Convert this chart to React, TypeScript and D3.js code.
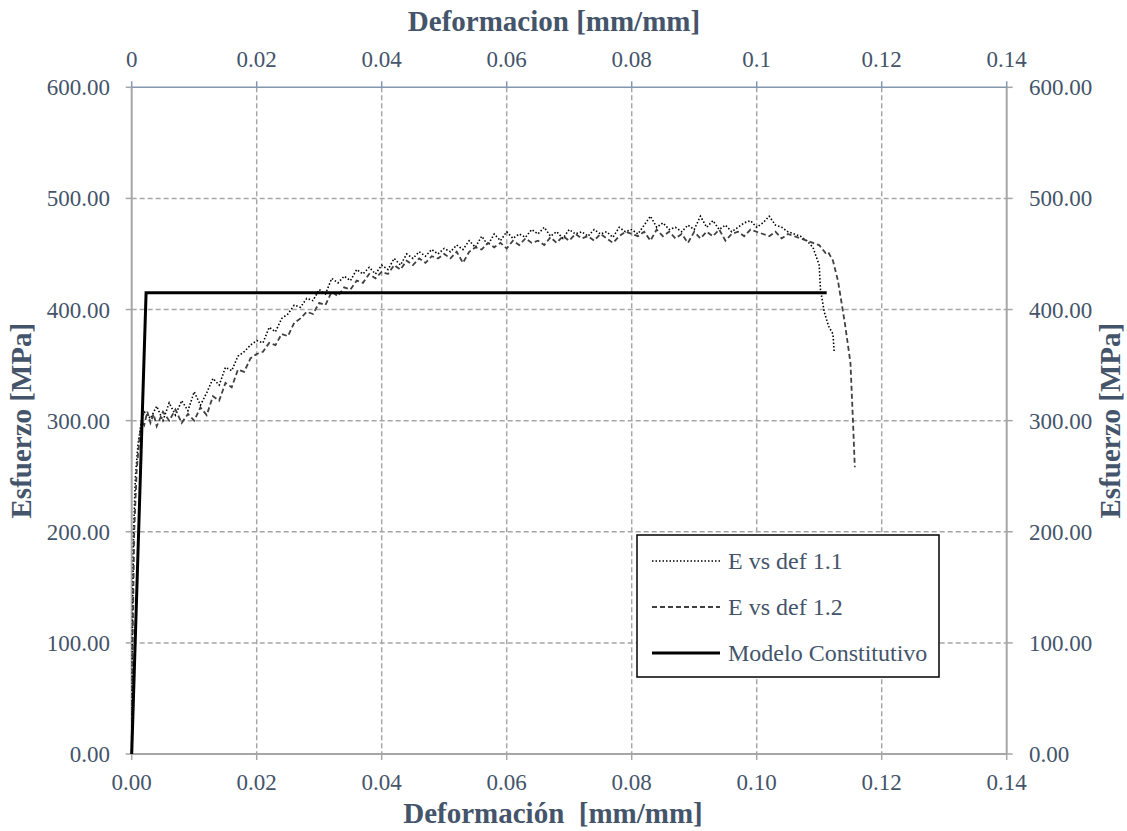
import React from "react";
import * as d3 from "d3";

const strain11 = [0, 0.0001, 0.0003, 0.0006, 0.001, 0.0015, 0.002, 0.003, 0.004, 0.005, 0.006, 0.007, 0.008, 0.009, 0.010, 0.011, 0.012, 0.013, 0.014, 0.015, 0.016, 0.017, 0.018, 0.019, 0.020, 0.021, 0.022, 0.023, 0.024, 0.025, 0.026, 0.027, 0.028, 0.029, 0.030, 0.031, 0.032, 0.033, 0.034, 0.035, 0.036, 0.037, 0.038, 0.039, 0.040, 0.041, 0.042, 0.043, 0.044, 0.045, 0.046, 0.047, 0.048, 0.049, 0.050, 0.051, 0.052, 0.053, 0.054, 0.055, 0.056, 0.057, 0.058, 0.059, 0.060, 0.061, 0.062, 0.063, 0.064, 0.065, 0.066, 0.067, 0.068, 0.069, 0.070, 0.071, 0.072, 0.073, 0.074, 0.075, 0.076, 0.077, 0.078, 0.079, 0.080, 0.081, 0.082, 0.083, 0.084, 0.085, 0.086, 0.087, 0.088, 0.089, 0.090, 0.091, 0.092, 0.093, 0.094, 0.095, 0.096, 0.097, 0.098, 0.099, 0.100, 0.101, 0.102, 0.103, 0.104, 0.105, 0.106, 0.107, 0.108, 0.109, 0.110, 0.1102, 0.1108, 0.1115, 0.1122, 0.1124];
const stress11 = [0, 100, 200, 250, 278, 298, 308, 302, 313, 300, 316, 305, 318, 309, 326, 314, 325, 338, 332, 348, 345, 358, 362, 368, 372, 370, 384, 380, 392, 396, 404, 402, 410, 408, 418, 414, 428, 424, 430, 426, 436, 432, 438, 432, 440, 436, 446, 440, 450, 446, 452, 448, 454, 450, 455, 452, 458, 454, 462, 456, 466, 458, 468, 462, 470, 464, 468, 465, 472, 468, 474, 466, 470, 464, 472, 468, 470, 466, 472, 468, 470, 465, 474, 470, 472, 468, 476, 484, 474, 478, 472, 474, 470, 476, 472, 484, 474, 480, 472, 476, 470, 474, 478, 480, 474, 478, 484, 476, 474, 470, 468, 466, 462, 456, 440, 418, 398, 385, 378, 362];

const strain12 = [0, 0.00015, 0.0004, 0.0008, 0.0012, 0.0016, 0.002, 0.0025, 0.003, 0.0035, 0.004, 0.005, 0.006, 0.007, 0.008, 0.009, 0.010, 0.011, 0.012, 0.013, 0.014, 0.015, 0.016, 0.017, 0.018, 0.019, 0.020, 0.021, 0.022, 0.023, 0.024, 0.025, 0.026, 0.027, 0.028, 0.029, 0.030, 0.031, 0.032, 0.033, 0.034, 0.035, 0.036, 0.037, 0.038, 0.039, 0.040, 0.041, 0.042, 0.043, 0.044, 0.045, 0.046, 0.047, 0.048, 0.049, 0.050, 0.051, 0.052, 0.053, 0.054, 0.055, 0.056, 0.057, 0.058, 0.059, 0.060, 0.061, 0.062, 0.063, 0.064, 0.065, 0.066, 0.067, 0.068, 0.069, 0.070, 0.071, 0.072, 0.073, 0.074, 0.075, 0.076, 0.077, 0.078, 0.079, 0.080, 0.081, 0.082, 0.083, 0.084, 0.085, 0.086, 0.087, 0.088, 0.089, 0.090, 0.091, 0.092, 0.093, 0.094, 0.095, 0.096, 0.097, 0.098, 0.099, 0.100, 0.101, 0.102, 0.103, 0.104, 0.105, 0.106, 0.107, 0.108, 0.109, 0.110, 0.111, 0.1114, 0.1122, 0.113, 0.1141, 0.115, 0.1154, 0.1157];
const stress12 = [0, 100, 200, 255, 282, 300, 296, 308, 298, 306, 295, 308, 300, 310, 298, 306, 300, 312, 305, 322, 318, 334, 330, 346, 344, 356, 360, 362, 370, 368, 378, 376, 388, 392, 398, 396, 406, 404, 416, 412, 420, 418, 426, 424, 432, 428, 434, 432, 440, 436, 444, 440, 446, 442, 448, 446, 450, 446, 452, 442, 452, 456, 454, 460, 456, 460, 455, 462, 458, 464, 460, 462, 458, 465, 460, 466, 462, 468, 464, 466, 462, 468, 464, 460, 466, 470, 468, 466, 470, 462, 472, 466, 470, 464, 468, 460, 470, 464, 470, 466, 472, 462, 468, 470, 466, 472, 470, 468, 466, 470, 464, 468, 466, 464, 462, 460, 458, 451, 452, 444, 426, 388, 352, 300, 258];

const strainModel = [0, 0.0023, 0.1112];
const stressModel = [0, 415, 415];

const xTicks = [0, 0.02, 0.04, 0.06, 0.08, 0.10, 0.12, 0.14];
const yTicks = [0, 100, 200, 300, 400, 500, 600];
const topTickLabels = ["0", "0.02", "0.04", "0.06", "0.08", "0.1", "0.12", "0.14"];

const seriesNames = ["E vs def 1.1", "E vs def 1.2", "Modelo Constitutivo"];

const TXT = "#44546A";
const GRID = "#A6A6A6";
const FONT = "'Liberation Serif', 'Times New Roman', serif";

export default function App() {
  const W = 1127, H = 831;
  const x = d3.scaleLinear().domain([0, 0.14]).range([131.7, 1006.7]);
  const y = d3.scaleLinear().domain([0, 600]).range([754, 87.3]);
  const line = d3.line<[number, number]>().x(d => x(d[0])).y(d => y(d[1]));
  const zip = (a: number[], b: number[]) => a.map((v, i) => [v, b[i]] as [number, number]);
  const p11 = line(zip(strain11, stress11)) || "";
  const p12 = line(zip(strain12, stress12)) || "";
  const pm = line(zip(strainModel, stressModel)) || "";

  const styles = [
    { stroke: "#000", width: 1.6, dash: "1.5 2" },
    { stroke: "#404040", width: 1.8, dash: "5 3" },
    { stroke: "#000", width: 3, dash: "none" },
  ];

  const lgX = 637, lgY = 535, lgW = 302, lgH = 142;
  const midY = (y(0) + y(600)) / 2;

  return (
    <svg width={W} height={H} style={{ position: "absolute", left: 0, top: 0 }} fontFamily={FONT}>
      <rect width={W} height={H} fill="#fff" />
      {xTicks.slice(1, -1).map(t => (
        <line key={"gx" + t} x1={x(t)} x2={x(t)} y1={y(600)} y2={y(0)} stroke={GRID} strokeWidth={1.5} strokeDasharray="5 3" />
      ))}
      {yTicks.slice(1, -1).map(t => (
        <line key={"gy" + t} x1={x(0)} x2={x(0.14)} y1={y(t)} y2={y(t)} stroke={GRID} strokeWidth={1.5} strokeDasharray="5 3" />
      ))}
      <line x1={x(0)} x2={x(0)} y1={y(600)} y2={y(0)} stroke={GRID} strokeWidth={2} />
      <line x1={x(0.14)} x2={x(0.14)} y1={y(600)} y2={y(0)} stroke={GRID} strokeWidth={2} />
      <line x1={x(0)} x2={x(0.14)} y1={y(0)} y2={y(0)} stroke={GRID} strokeWidth={2} />
      <line x1={x(0)} x2={x(0.14)} y1={y(600)} y2={y(600)} stroke="#8497B0" strokeWidth={1.5} />
      {yTicks.map(t => (
        <g key={"ty" + t}>
          <line x1={x(0) - 6} x2={x(0)} y1={y(t)} y2={y(t)} stroke={GRID} strokeWidth={1.5} />
          <line x1={x(0.14)} x2={x(0.14) + 6} y1={y(t)} y2={y(t)} stroke={GRID} strokeWidth={1.5} />
          <text x={110} y={y(t)} dy="0.35em" textAnchor="end" fontSize={23} fill={TXT}>{t.toFixed(2)}</text>
          <text x={1029} y={y(t)} dy="0.35em" textAnchor="start" fontSize={23} fill={TXT}>{t.toFixed(2)}</text>
        </g>
      ))}
      {xTicks.map((t, i) => (
        <g key={"tx" + t}>
          <line x1={x(t)} x2={x(t)} y1={y(0)} y2={y(0) + 6} stroke={GRID} strokeWidth={1.5} />
          <line x1={x(t)} x2={x(t)} y1={y(600) - 6} y2={y(600)} stroke="#8497B0" strokeWidth={1.5} />
          <text x={x(t)} y={y(0) + 36} textAnchor="middle" fontSize={23} fill={TXT}>{t.toFixed(2)}</text>
          <text x={x(t)} y={67} textAnchor="middle" fontSize={23} fill={TXT}>{topTickLabels[i]}</text>
        </g>
      ))}
      <path d={p11} fill="none" stroke={styles[0].stroke} strokeWidth={styles[0].width} strokeDasharray={styles[0].dash} />
      <path d={p12} fill="none" stroke={styles[1].stroke} strokeWidth={styles[1].width} strokeDasharray={styles[1].dash} />
      <path d={pm} fill="none" stroke={styles[2].stroke} strokeWidth={styles[2].width} />
      <text x={554} y={31} textAnchor="middle" fontSize={29} fontWeight="bold" fill={TXT}>Deformacion [mm/mm]</text>
      <text x={553} y={823} textAnchor="middle" fontSize={29} fontWeight="bold" fill={TXT} style={{ whiteSpace: "pre" }}>{"Deformación  [mm/mm]"}</text>
      <text transform={`translate(31,${midY}) rotate(-90)`} textAnchor="middle" fontSize={29} fontWeight="bold" fill={TXT}>Esfuerzo [MPa]</text>
      <text transform={`translate(1120,${midY}) rotate(-90)`} textAnchor="middle" fontSize={29} fontWeight="bold" fill={TXT}>Esfuerzo [MPa]</text>
      <rect x={lgX} y={lgY} width={lgW} height={lgH} fill="#fff" stroke="#000" strokeWidth={1.5} />
      {seriesNames.map((n, i) => {
        const ly = lgY + 26 + i * 46;
        return (
          <g key={n}>
            <line x1={652} x2={720} y1={ly} y2={ly} stroke={styles[i].stroke} strokeWidth={styles[i].width} strokeDasharray={styles[i].dash} />
            <text x={728} y={ly} dy="0.35em" fontSize={24} fill={TXT}>{n}</text>
          </g>
        );
      })}
    </svg>
  );
}
